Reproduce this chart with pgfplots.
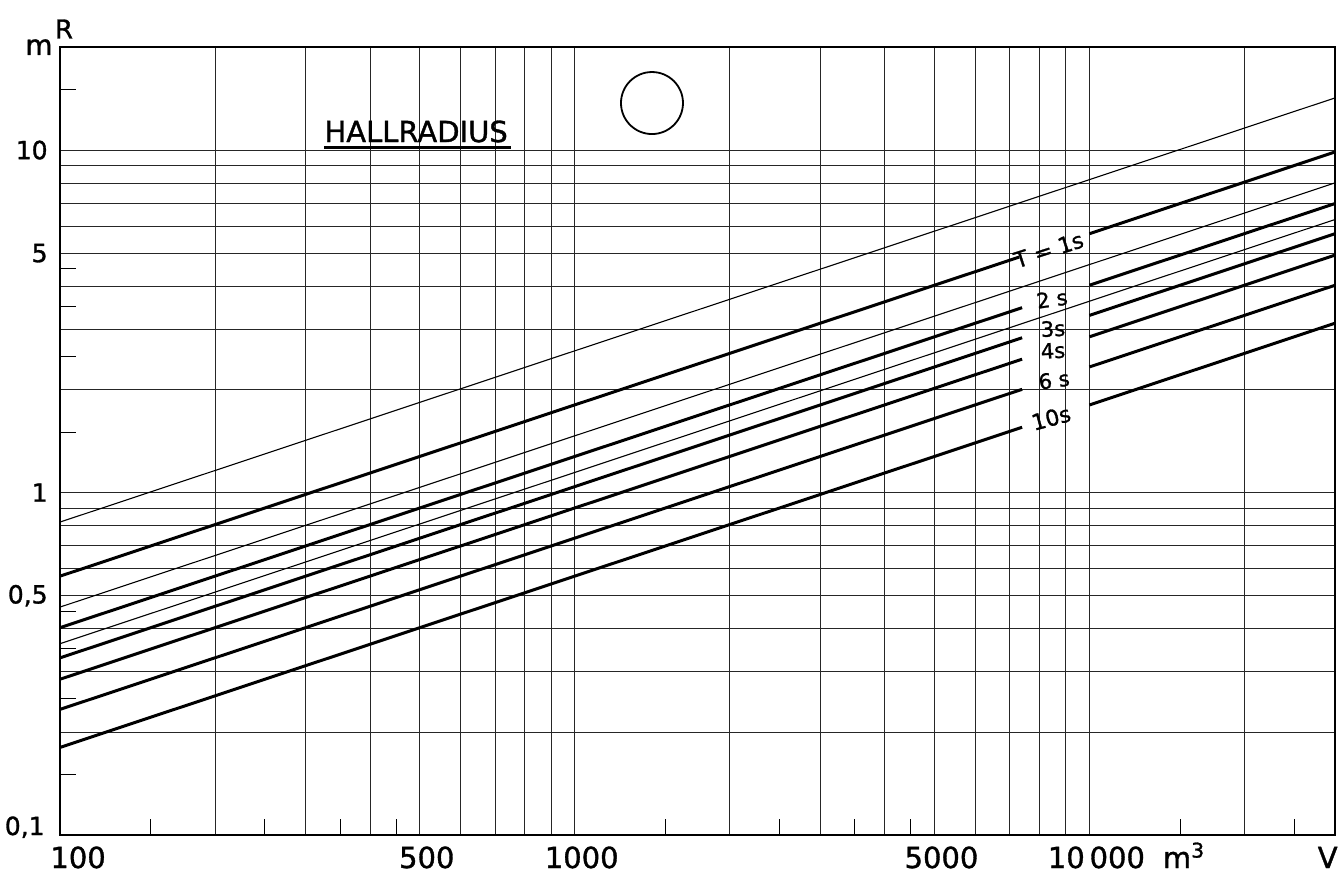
\documentclass[border=0pt]{standalone}
\usepackage{pgfplots}
\pgfplotsset{compat=1.18}
\usepackage{fontspec}
\setmainfont{DejaVu Sans}[FakeBold=1.2]
\begin{document}
\begin{tikzpicture}
\begin{axis}[
  scale only axis, width=637.5pt, height=394pt,
  xmode=log, ymode=log,
  xmin=100, xmax=30000, ymin=0.1, ymax=20,
  axis line style={line width=0.7pt, black},
  xtick={100,200,300,400,500,600,700,800,900,1000,2000,3000,4000,5000,6000,7000,8000,9000,10000,20000},
  xticklabels={,,,,500,,,,,1000,,,,5000,,,,,{10\,000\rlap{\hspace{9pt}m\textsuperscript{3}}},},
  ytick={0.2,0.3,0.4,0.5,0.6,0.7,0.8,0.9,1,2,3,4,5,6,7,8,9,10},
  yticklabels={,,,{0,5},,,,,1,,,,5,,,,,10},
  minor xtick={150,250,350,450,1500,2500,3500,4500,15000,25000},
  minor ytick={0.15,0.25,0.35,0.45,1.5,2.5,3.5,4.5,15},
  major tick length=0pt, minor tick length=8pt,
  tick align=inside, tick pos=left,
  grid=major, major grid style={line width=0.4pt, black!85},
  minor tick style={line width=0.5pt, black},
  xticklabel style={anchor=base, inner sep=0pt, yshift=-16.5pt, xshift=3.5pt, font=\fontsize{14.5}{17}\selectfont},
  yticklabel style={anchor=east, inner sep=0pt, xshift=-6pt, font=\fontsize{12.5}{14}\selectfont},
  clip=false,
]
% thin lines
\addplot[black, line width=0.55pt, mark=none] coordinates {(100,0.82) (30000,14.2)};
\addplot[black, line width=0.55pt, mark=none] coordinates {(100,0.463) (30000,8.02)};
\addplot[black, line width=0.55pt, mark=none] coordinates {(100,0.362) (30000,6.27)};
% thick lines, left part
\addplot[black, line width=1.5pt, mark=none] coordinates {(100,0.570) (7300,4.87)};
\addplot[black, line width=1.5pt, mark=none] coordinates {(100,0.403) (7400,3.467)};
\addplot[black, line width=1.5pt, mark=none] coordinates {(100,0.329) (7400,2.831)};
\addplot[black, line width=1.5pt, mark=none] coordinates {(100,0.285) (7400,2.452)};
\addplot[black, line width=1.5pt, mark=none] coordinates {(100,0.2327) (7400,2.002)};
\addplot[black, line width=1.5pt, mark=none] coordinates {(100,0.1802) (7400,1.551)};
% thick lines, right part
\addplot[black, line width=1.5pt, mark=none] coordinates {(10000,5.70) (30000,9.873)};
\addplot[black, line width=1.5pt, mark=none] coordinates {(10000,4.031) (30000,6.981)};
\addplot[black, line width=1.5pt, mark=none] coordinates {(10000,3.291) (30000,5.700)};
\addplot[black, line width=1.5pt, mark=none] coordinates {(10000,2.850) (30000,4.936)};
\addplot[black, line width=1.5pt, mark=none] coordinates {(10000,2.327) (30000,4.030)};
\addplot[black, line width=1.5pt, mark=none] coordinates {(10000,1.802) (30000,3.122)};
% line labels
\node[rotate=18, inner sep=0pt, font=\fontsize{11}{13}\selectfont] at (rel axis cs:0.7755,0.7424) {T = 1s};
\node[rotate=8, inner sep=0pt, font=\fontsize{10.5}{12}\selectfont] at (rel axis cs:0.7780,0.6802) {2 s};
\node[rotate=3, inner sep=0pt, font=\fontsize{10.5}{12}\selectfont] at (rel axis cs:0.7788,0.6425) {3s};
\node[rotate=3, inner sep=0pt, font=\fontsize{10.5}{12}\selectfont] at (rel axis cs:0.7788,0.6145) {4s};
\node[rotate=8, inner sep=0pt, font=\fontsize{10.5}{12}\selectfont] at (rel axis cs:0.7796,0.5774) {6 s};
\node[rotate=15, inner sep=0pt, font=\fontsize{11}{13}\selectfont] at (rel axis cs:0.7773,0.5292) {10s};
% title and circle
\node (H) [anchor=base west, inner sep=0pt, font=\fontsize{14.5}{17}\selectfont] at (rel axis cs:0.2071,0.8794) {HALLRADIUS};
\draw[line width=1.6pt] ([yshift=-2.8pt]H.base west) -- ([yshift=-2.8pt,xshift=1.5pt]H.base east);
\draw[line width=0.9pt] (rel axis cs:0.4643,0.9289) circle[radius=15.5pt];
% special axis labels
\node[anchor=base west, inner sep=0pt, font=\fontsize{14.5}{17}\selectfont] at ([xshift=-5pt,yshift=-16.5pt]rel axis cs:0,0) {100};
\node[anchor=base east, inner sep=0pt, font=\fontsize{14.5}{17}\selectfont] at ([xshift=1.5pt,yshift=-16.5pt]rel axis cs:1,0) {V};
\node[anchor=base east, inner sep=0pt, font=\fontsize{12.5}{14}\selectfont] at ([xshift=-7.5pt]rel axis cs:0,0) {0,1};
\node[anchor=base east, inner sep=0pt, font=\fontsize{14}{16}\selectfont] at ([xshift=-3.5pt,yshift=-4pt]rel axis cs:0,1) {m};
\node[inner sep=0pt, font=\fontsize{13}{15}\selectfont] at ([xshift=2pt,yshift=9pt]rel axis cs:0,1) {R};
\end{axis}
\pgfresetboundingbox
\path (-30pt,-20pt) rectangle (640.5pt,417.5pt);
\end{tikzpicture}
\end{document}
